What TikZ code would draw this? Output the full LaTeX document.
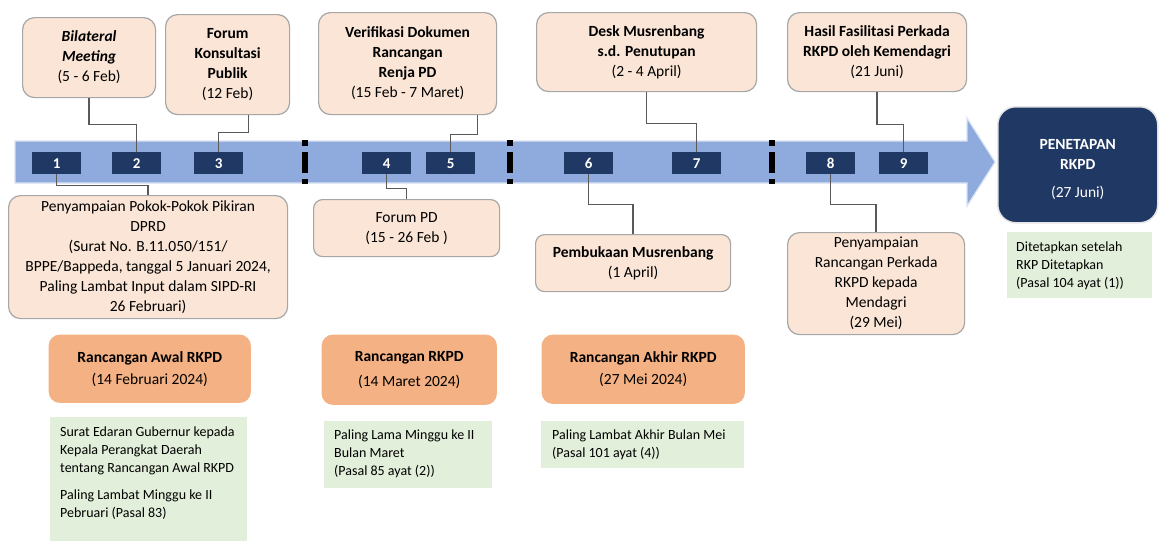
\documentclass[tikz,border=0pt]{standalone}
\usepackage{fontspec}
\setmainfont{Carlito}
\usetikzlibrary{calc}
\definecolor{peach}{HTML}{FBE5D6}
\definecolor{peachline}{HTML}{A6A6A6}
\definecolor{orangefill}{HTML}{F4B183}
\definecolor{greenfill}{HTML}{E2EFDA}
\definecolor{navy}{HTML}{203864}
\definecolor{barblue}{HTML}{8FAADC}
\definecolor{barline}{HTML}{DAE3F3}
\definecolor{conn}{HTML}{595959}
\tikzset{
  basebox/.style={anchor=north west, inner sep=0pt, align=center, font=\fontsize{15.5}{20}\selectfont},
  peachbox/.style={basebox, draw=peachline, line width=1.2pt, fill=peach, rounded corners=12pt},
  orangebox/.style={basebox, draw=white, line width=1.5pt, fill=orangefill, rounded corners=12pt},
  greenbox/.style={anchor=north west, inner sep=0pt, fill=greenfill},
  greentext/.style={anchor=north west, inner sep=0pt, align=left, font=\fontsize{14}{18}\selectfont},
  numbox/.style={fill=navy, text=white, font=\fontsize{15}{17}\selectfont\bfseries, minimum width=49pt, minimum height=22pt, inner sep=0pt, anchor=north west},
  connline/.style={draw=conn, line width=1.4pt},
  sepbar/.style={fill=black, draw=none}
}
\begin{document}
\begin{tikzpicture}[x=1pt,y=-1pt]
\useasboundingbox[fill=white] (0,0) rectangle (1159,542);

% timeline arrow
\draw[fill=barblue, draw=barline, line width=1.2pt] (15,141) -- (967,141) -- (967,118) -- (995,162) -- (967,206) -- (967,183) -- (15,183) -- cycle;
% separators
\foreach \sx in {302,507,769}{
  \fill[sepbar] (\sx,140) rectangle ++(5.5,6);
  \fill[sepbar] (\sx,152) rectangle ++(5.5,21);
  \fill[sepbar] (\sx,179) rectangle ++(5.5,5);
}

% number boxes
\node[numbox] (n1) at (32,152) {1};
\node[numbox] (n2) at (112,152) {2};
\node[numbox] (n3) at (194,152) {3};
\node[numbox] (n4) at (362,152) {4};
\node[numbox] (n5) at (426,152) {5};
\node[numbox] (n6) at (564,152) {6};
\node[numbox] (n7) at (672,152) {7};
\node[numbox] (n8) at (806,152) {8};
\node[numbox] (n9) at (879,152) {9};

% top boxes
\node[peachbox, minimum width=133pt, minimum height=80pt] (bm) at (22,17)
  {{\bfseries\itshape Bilateral}\\ {\bfseries\itshape Meeting}\\ (5 - 6 Feb)};
\node[peachbox, minimum width=124pt, minimum height=100pt] (fk) at (165,14)
  {\textbf{Forum}\\ \textbf{Konsultasi}\\ \textbf{Publik}\\ (12 Feb)};
\node[peachbox, minimum width=178pt, minimum height=102pt] (vd) at (318,12)
  {\textbf{Verifikasi Dokumen}\\ \textbf{Rancangan}\\ \textbf{Renja PD}\\ (15 Feb - 7 Maret)};
\node[peachbox, minimum width=220pt, minimum height=79pt] (dm) at (536,12)
  {\textbf{Desk Musrenbang}\\ \textbf{s.d. Penutupan}\\ (2 - 4 April)};
\node[peachbox, minimum width=179pt, minimum height=79pt] (hf) at (787,12)
  {\textbf{Hasil Fasilitasi Perkada}\\ \textbf{RKPD oleh Kemendagri}\\ (21 Juni)};

% final box
\node[basebox, draw=white!80!gray, line width=1.5pt, fill=navy, rounded corners=18pt, minimum width=160pt, minimum height=116pt] (pen) at (997,106) {};
\node[align=center, inner sep=0pt, text=white, font=\fontsize{15.5}{20}\selectfont] (pent) at ([yshift=-5pt]pen.center)
  {\textbf{PENETAPAN}\\ \textbf{RKPD}\\[8pt] (27 Juni)};

% bottom boxes
\node[peachbox, minimum width=279pt, minimum height=123pt] (pp) at (8,195)
  {Penyampaian Pokok-Pokok Pikiran\\ DPRD\\ (Surat No. B.11.050/151/\\ BPPE/Bappeda, tanggal 5 Januari 2024,\\ Paling Lambat Input dalam SIPD-RI\\ 26 Februari)};
\node[peachbox, minimum width=186pt, minimum height=57pt, rounded corners=9pt] (fpd) at (313,199)
  {Forum PD\\ (15 - 26 Feb )};
\node[peachbox, minimum width=195pt, minimum height=57pt, rounded corners=9pt] (pm) at (535,234)
  {\textbf{Pembukaan Musrenbang}\\ (1 April)};
\node[peachbox, minimum width=177pt, minimum height=102pt] (pr) at (787,232)
  {Penyampaian\\ Rancangan Perkada\\ RKPD kepada\\ Mendagri\\ (29 Mei)};

% orange boxes
\node[orangebox, minimum width=204pt, minimum height=70pt] (o1) at (47,333)
  {\textbf{Rancangan Awal RKPD}\\[2pt] (14 Februari 2024)};
\node[orangebox, minimum width=177pt, minimum height=72pt] (o2) at (320,333)
  {\textbf{Rancangan RKPD}\\[5pt] (14 Maret 2024)};
\node[orangebox, minimum width=205pt, minimum height=71pt] (o3) at (540,333)
  {\textbf{Rancangan Akhir RKPD}\\[2pt] (27 Mei 2024)};

% green notes
\node[greenbox, minimum width=197pt, minimum height=124pt] (g1) at (50,417) {};
\node[greentext] (g1t) at ($(g1.north west)+(10,10)$)
  {Surat Edaran Gubernur kepada\\ Kepala Perangkat Daerah\\ tentang Rancangan Awal RKPD\\[9pt] Paling Lambat Minggu ke II\\ Pebruari (Pasal 83)};
\node[greenbox, minimum width=168pt, minimum height=67pt] (g2) at (324,421) {};
\node[greentext] (g2t) at ($(g2.north west)+(10,9)$)
  {Paling Lama Minggu ke II\\ Bulan Maret\\ (Pasal 85 ayat (2))};
\node[greenbox, minimum width=203pt, minimum height=47pt] (g3) at (541,421) {};
\node[greentext] (g3t) at ($(g3.north west)+(11,9)$)
  {Paling Lambat Akhir Bulan Mei\\ (Pasal 101 ayat (4))};
\node[greenbox, minimum width=145pt, minimum height=66pt] (g4) at (1007,232) {};
\node[greentext] (g4t) at ($(g4.north west)+(9,10)$)
  {Ditetapkan setelah\\ RKP Ditetapkan\\ (Pasal 104 ayat (1))};

% connectors
\draw[connline] (bm.south) -- ++(0,26) -| (n2.north);
\draw[connline] ([xshift=21pt]fk.south) -- ++(0,17) -| (n3.north);
\draw[connline] ([xshift=70pt]vd.south) -- ++(0,19) -| (n5.north);
\draw[connline] (dm.south) -- ++(0,31) -| (n7.north);
\draw[connline] (hf.south) -- ++(0,32) -| (n9.north);
\draw[connline] (n1.south) -- ++(0,11) -| (pp.north);
\draw[connline] (n4.south) -- ++(0,14) -| (fpd.north);
\draw[connline] (n6.south) -- ++(0,30) -| (pm.north);
\draw[connline] (n8.south) -- ++(0,30) -| (pr.north);
\end{tikzpicture}
\end{document}
